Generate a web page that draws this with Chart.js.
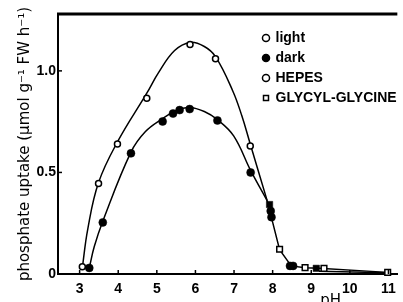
<!DOCTYPE html>
<html><head><meta charset="utf-8">
<script src="https://cdn.jsdelivr.net/npm/chart.js@4/dist/chart.umd.min.js"></script>
<style>html,body{margin:0;padding:0;background:#fff;}canvas{display:block;}</style>
</head><body>
<canvas id="c" width="403" height="302"></canvas>
<script>
// ---- data ----
const xTicks = [3, 4, 5, 6, 7, 8, 9, 10, 11];
const yTicks = [0, 0.5, 1.0];
const legendNames = ['light', 'dark', 'HEPES', 'GLYCYL-GLYCINE'];
const yTitle = 'phosphate uptake (µmol g⁻¹ FW h⁻¹)';
const xTitle = 'pH';

// measured points
const lightPH     = [3.07, 3.49, 3.98, 4.74, 5.86, 6.52, 7.42];
const lightUptake = [0.036, 0.446, 0.64, 0.865, 1.13, 1.06, 0.63];
const darkPH      = [3.25, 3.60, 4.33, 5.15, 5.42, 5.59, 5.85, 6.57, 7.43, 7.95, 7.97, 8.45, 8.53];
const darkUptake  = [0.03, 0.254, 0.594, 0.751, 0.79, 0.807, 0.812, 0.756, 0.50, 0.31, 0.28, 0.04, 0.04];
const glyLightPH     = [8.18, 8.84, 9.33, 10.98];
const glyLightUptake = [0.122, 0.031, 0.028, 0.008];
const glyDarkPH      = [7.92, 9.13];
const glyDarkUptake  = [0.342, 0.028];

// fitted curves as drawn in the picture
const lightCurvePH     = [3.07, 3.21, 3.49, 3.98, 4.74, 5.04, 5.46, 5.86, 6.23, 6.52, 6.97, 7.20, 7.42, 7.86];
const lightCurveUptake = [0.03, 0.22, 0.45, 0.65, 0.89, 0.99, 1.10, 1.14, 1.12, 1.07, 0.90, 0.78, 0.64, 0.36];
const darkCurvePH      = [3.25, 3.38, 3.60, 4.33, 4.70, 5.15, 5.50, 5.85, 6.23, 6.57, 6.99, 7.43, 7.86];
const darkCurveUptake  = [0.03, 0.135, 0.26, 0.60, 0.70, 0.765, 0.805, 0.82, 0.80, 0.76, 0.68, 0.51, 0.36];
const tailPH      = [7.86, 8.18, 8.48, 8.84, 9.20, 10.98];
const tailUptake  = [0.36, 0.12, 0.04, 0.031, 0.028, 0.008];
const tail2PH     = [9.20, 10.98];
const tail2Uptake = [0.014, 0.006];

const pts = (xs, ys) => xs.map((x, i) => ({x, y: ys[i]}));
const FONT = '"Liberation Sans", Arial, "DejaVu Sans", sans-serif';
const TITLE_FONT = '"DejaVu Sans", "Liberation Sans", sans-serif';

const scatter = (label, xs, ys, style, radius, fill) => ({
  label, data: pts(xs, ys), showLine: false, pointStyle: style,
  pointRadius: radius, pointBackgroundColor: fill, pointBorderColor: '#000',
  pointBorderWidth: fill === '#000' ? 0.5 : 1.5, clip: false
});
const curve = (label, xs, ys, tension) => ({
  label, data: pts(xs, ys), showLine: true, pointRadius: 0,
  borderColor: '#000', borderWidth: 1.5, tension: tension, fill: false
});

const frame = {
  id: 'frame',
  afterLayout(chart) {
    const lg = chart.legend, a = chart.chartArea;
    if (lg) { lg.left = a.left + 199.5; lg.top = a.top + 11; }
  },
  afterDraw(chart) {
    const {ctx, chartArea: a, scales: {x, y}} = chart;
    ctx.save();
    ctx.strokeStyle = '#000';
    ctx.lineWidth = 3;
    ctx.beginPath(); ctx.moveTo(a.left - 1, a.top); ctx.lineTo(a.right, a.top); ctx.stroke();
    ctx.lineWidth = 1.5;
    x.ticks.forEach(t => { const p = x.getPixelForValue(t.value); ctx.beginPath(); ctx.moveTo(p, a.bottom); ctx.lineTo(p, a.bottom - 4); ctx.stroke(); });
    y.ticks.forEach(t => { const p = y.getPixelForValue(t.value); ctx.beginPath(); ctx.moveTo(a.left, p); ctx.lineTo(a.left + 4, p); ctx.stroke(); });
    ctx.fillStyle = '#000';
    ctx.font = '15px ' + TITLE_FONT;
    ctx.textAlign = 'center';
    ctx.textBaseline = 'alphabetic';
    ctx.fillText(xTitle, x.getPixelForValue(9.5), a.bottom + 31);
    ctx.restore();
  }
};

new Chart(document.getElementById('c'), {
  type: 'line',
  data: {
    datasets: [
      scatter('light', lightPH, lightUptake, 'circle', 3, '#fff'),
      scatter('dark', darkPH, darkUptake, 'circle', 4, '#000'),
      scatter('GLYCYL-GLYCINE light', glyLightPH, glyLightUptake, 'rect', 4, '#fff'),
      scatter('GLYCYL-GLYCINE dark', glyDarkPH, glyDarkUptake, 'rect', 4.5, '#000'),
      curve('light curve', lightCurvePH, lightCurveUptake, 0.4),
      curve('dark curve', darkCurvePH, darkCurveUptake, 0.4),
      curve('tail', tailPH, tailUptake, 0),
      curve('tail 2', tail2PH, tail2Uptake, 0)
    ]
  },
  options: {
    responsive: false,
    animation: false,
    devicePixelRatio: 1,
    layout: {padding: {top: 14, right: 0, left: 0, bottom: 0}},
    plugins: {
      tooltip: {enabled: false},
      legend: {
        position: 'chartArea',
        align: 'start',
        labels: {
          usePointStyle: true,
          boxWidth: 5, boxHeight: 5,
          padding: 6,
          color: '#000',
          font: {family: FONT, size: 14, weight: 'bold'},
          generateLabels: () => legendNames.map((t, i) => ({
            text: t,
            pointStyle: i === 3 ? 'rect' : 'circle',
            fillStyle: i === 1 ? '#000' : '#fff',
            strokeStyle: '#000',
            lineWidth: 1.5,
            fontColor: '#000',
            hidden: false
          }))
        }
      }
    },
    scales: {
      x: {
        type: 'linear', min: 2.44, max: 11.23,
        afterBuildTicks: s => { s.ticks = xTicks.map(v => ({value: v})); },
        afterFit: s => { s.height = 28; },
        grid: {display: false, drawTicks: false},
        border: {display: true, color: '#000', width: 2},
        ticks: {color: '#000', font: {family: FONT, size: 14, weight: 'bold'}, padding: 7, maxRotation: 0, autoSkip: false,
                callback: v => String(v)}
      },
      y: {
        type: 'linear', min: 0, max: 1.28,
        afterBuildTicks: s => { s.ticks = yTicks.map(v => ({value: v})); },
        afterFit: s => { s.width = 58; },
        grid: {display: false, drawTicks: false},
        border: {display: true, color: '#000', width: 2},
        ticks: {color: '#000', font: {family: FONT, size: 14, weight: 'bold'}, padding: 2,
                callback: v => v === 0 ? '0' : v.toFixed(1)},
        title: {display: true, text: yTitle, color: '#000', font: {family: TITLE_FONT, size: 15},
                padding: {top: 16, bottom: 0}}
      }
    }
  },
  plugins: [frame]
});
</script>
</body></html>
